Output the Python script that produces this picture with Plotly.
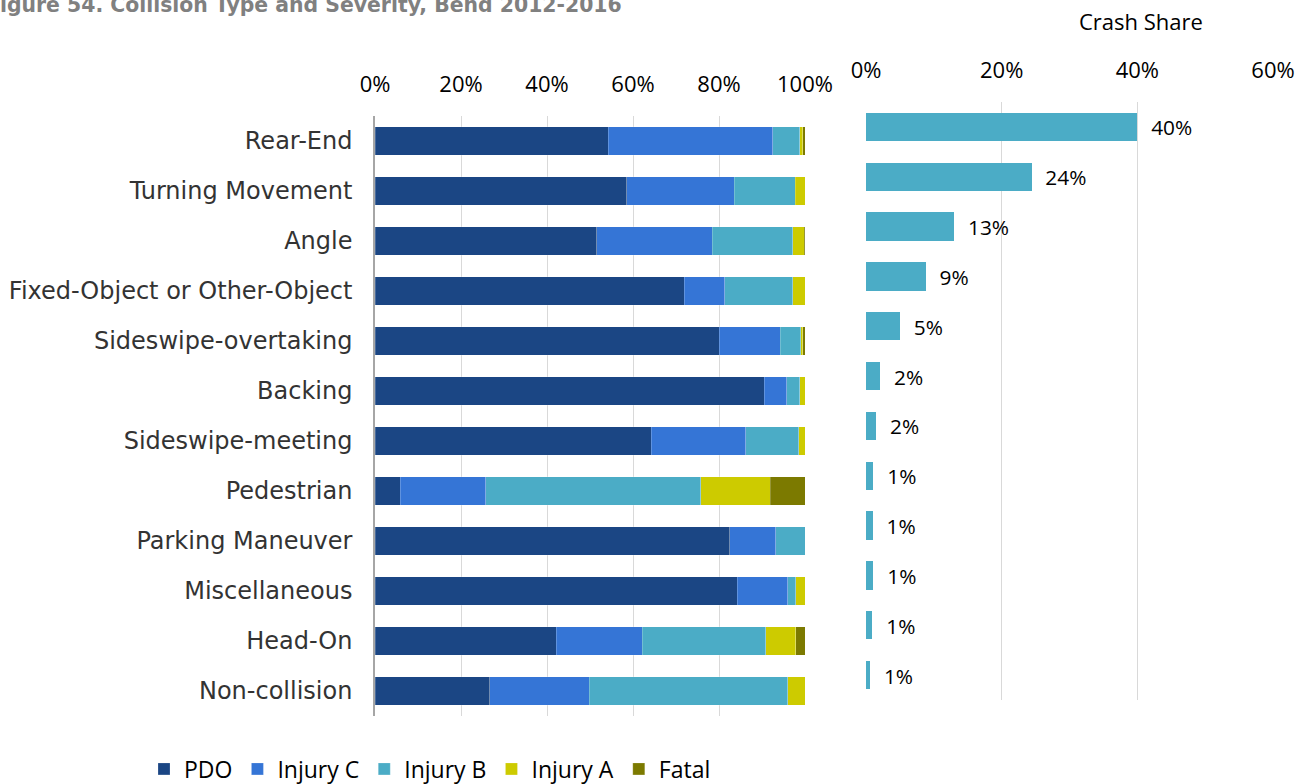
import plotly.graph_objects as go

W, H = 1315, 784

categories = ["Rear-End", "Turning Movement", "Angle", "Fixed-Object or Other-Object",
              "Sideswipe-overtaking", "Backing", "Sideswipe-meeting", "Pedestrian",
              "Parking Maneuver", "Miscellaneous", "Head-On", "Non-collision"]

pdo      = [54.3, 58.6, 51.6, 71.9, 80.0, 90.5, 64.2, 5.9, 82.5, 84.2, 42.1, 26.7]
injury_c = [38.2, 24.9, 26.8,  9.4, 14.2,  5.3, 22.0, 19.9, 10.7, 11.8, 20.0, 23.1]
injury_b = [ 6.3, 14.2, 18.8, 15.8,  4.8,  3.0, 12.3, 50.0,  6.8,  1.9, 28.8, 46.2]
injury_a = [ 0.7,  2.3,  2.6,  2.9,  0.5,  1.2,  1.5, 16.1,  0.0,  2.1,  6.9,  4.0]
fatal    = [ 0.5,  0.0,  0.2,  0.0,  0.5,  0.0,  0.0,  8.1,  0.0,  0.0,  2.2,  0.0]

crash_share = [40.0, 24.4, 13.0, 8.8, 5.0, 2.1, 1.5, 1.1, 1.0, 1.1, 0.95, 0.6]

left_ticks = [0, 20, 40, 60, 80, 100]
left_ticktext = ["0%", "20%", "40%", "60%", "80%", "100%"]
right_ticks = [0, 20, 40, 60]
right_ticktext = ["0%", "20%", "40%", "60%"]

series = [("PDO", pdo, "#1B4684"),
          ("Injury C", injury_c, "#3575D6"),
          ("Injury B", injury_b, "#4BACC6"),
          ("Injury A", injury_a, "#CDCB00"),
          ("Fatal", fatal, "#7C7A00")]

FONT = "Open Sans"
CAT_FONT = "DejaVu Sans"

fig = go.Figure()
for name, vals, col in series:
    fig.add_trace(go.Bar(
        y=categories, x=vals, name=name, orientation="h",
        marker=dict(color=col, line=dict(color="rgba(255,255,255,0.35)", width=0.6)),
        xaxis="x", yaxis="y", hoverinfo="skip"))

fig.add_trace(go.Bar(
    y=categories, x=crash_share, orientation="h", showlegend=False,
    marker=dict(color="#4BACC6", line=dict(width=0)),
    texttemplate="\u00a0\u00a0%{x:.0f}%", textposition="outside",
    textfont=dict(family=FONT, size=22, color="#000000"),
    cliponaxis=False, xaxis="x2", yaxis="y2", hoverinfo="skip"))

fig.update_layout(
    width=W, height=H, autosize=False,
    margin=dict(l=0, r=0, t=0, b=0, autoexpand=False),
    paper_bgcolor="white", plot_bgcolor="white",
    barmode="stack", bargap=0.43,
    font=dict(family=FONT, color="#000000"),
    xaxis=dict(domain=[375 / W, 805 / W], range=[0, 100], side="top",
               tickvals=left_ticks, ticktext=left_ticktext, showgrid=True,
               gridcolor="#D9D9D9", gridwidth=1.2, zeroline=False,
               tickfont=dict(size=22, color="#000000"), ticks="",
               ticklabelstandoff=19, anchor="y", automargin=False),
    yaxis=dict(domain=[(H - 716) / H, (H - 116) / H], categoryorder="array",
               categoryarray=categories, autorange="reversed",
               showline=True, linecolor="#A6A6A6", linewidth=1.5,
               tickfont=dict(family=CAT_FONT, size=24, color="#333333"), ticks="",
               ticklabelstandoff=16, anchor="x", showgrid=False, automargin=False),
    xaxis2=dict(domain=[866 / W, 1273 / W], range=[0, 60], side="top",
                tickvals=right_ticks, ticktext=right_ticktext, showgrid=True,
                gridcolor="#D9D9D9", gridwidth=1.2, zeroline=False,
                tickfont=dict(size=22, color="#000000"), ticks="",
                ticklabelstandoff=19, anchor="y2", automargin=False),
    yaxis2=dict(domain=[(H - 700) / H, (H - 102) / H], categoryorder="array",
                categoryarray=categories, autorange="reversed",
                showticklabels=False, showline=False, showgrid=False,
                anchor="x2", automargin=False),
    legend=dict(orientation="h", x=144 / W, y=(H - 769) / H, xanchor="left",
                yanchor="middle", font=dict(size=23, color="#000000"),
                traceorder="normal", itemclick=False),
    annotations=[
        dict(text="Crash Share", x=1141 / W, y=1 - 21 / H, xref="paper", yref="paper",
             xanchor="center", yanchor="middle", showarrow=False,
             font=dict(family=FONT, size=22, color="#000000")),
        dict(text="<b>Figure 54. Collision Type and Severity, Bend 2012-2016</b>",
             x=-16 / W, y=1 - 5 / H, xref="paper", yref="paper",
             xanchor="left", yanchor="middle", showarrow=False,
             font=dict(family="DejaVu Sans", size=20.4, color="#808080")),
    ],
)

fig.write_html("out.html", config={"displayModeBar": False},
               post_script="document.body.style.margin='0';document.body.style.overflow='hidden';")
